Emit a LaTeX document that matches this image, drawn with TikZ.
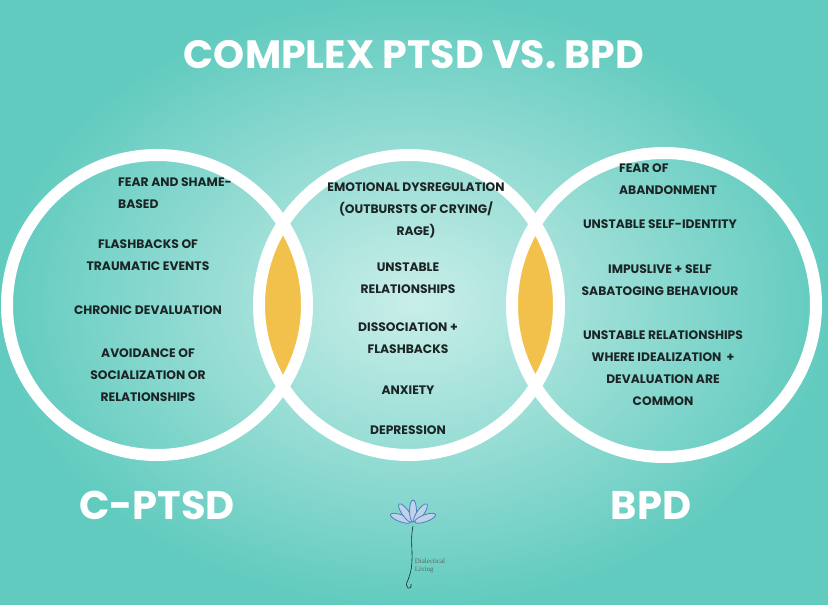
\documentclass[tikz,border=0pt]{standalone}
\usepackage{fontspec}
\setmainfont{Poppins}
\newfontfamily\logofont{Liberation Serif}
\usetikzlibrary{shapes.geometric}
\definecolor{bgc}{HTML}{A6E3DB}
\definecolor{bge}{HTML}{62CBBF}
\definecolor{lens}{HTML}{F2C14B}
\definecolor{ink}{HTML}{1B2525}
\definecolor{lotus}{HTML}{4A7FC0}
\tikzset{
  body/.style={text=ink,font=\fontsize{12.3}{22}\selectfont\bfseries,align=center},
  ring/.style={draw=white,line width=12pt},
  big/.style={text=white,font=\fontsize{40}{44}\selectfont\bfseries},
  petal/.style={draw=lotus,line width=0.8pt,fill=lotus!35,ellipse,minimum width=7pt,minimum height=22pt,inner sep=0pt}
}
\begin{document}
\begin{tikzpicture}[x=1pt,y=-1pt]
\useasboundingbox (0,0) rectangle (828,605);
\shade[inner color=bgc!60!white,outer color=bge] (0,0) rectangle (828,605);
\node[text=white,font=\fontsize{39.5}{42}\selectfont\bfseries] (title) at (414,55) {COMPLEX PTSD VS. BPD};
\coordinate (cl) at (157,305);
\coordinate (cc) at (409,305);
\coordinate (cr) at (664,305);
\begin{scope}
\clip (cl) circle (150);
\fill[lens] (cc) circle (150);
\end{scope}
\begin{scope}
\clip (cc) circle (150);
\fill[lens] (cr) circle (152);
\end{scope}
\draw[ring] (cl) circle (150);
\draw[ring] (cc) circle (150);
\draw[ring] (cr) circle (152);
\node[body,align=left] (l1) at (175,193) {FEAR AND SHAME-\\BASED};
\node[body] (l2) at (148,255) {FLASHBACKS OF\\TRAUMATIC EVENTS};
\node[body] (l3) at (148,310) {CHRONIC DEVALUATION};
\node[body] (l4) at (148,375) {AVOIDANCE OF\\SOCIALIZATION OR\\RELATIONSHIPS};
\node[body] (c1) at (416,210) {EMOTIONAL DYSREGULATION\\(OUTBURSTS OF CRYING/\\RAGE)};
\node[body] (c2) at (408,278) {UNSTABLE\\RELATIONSHIPS};
\node[body] (c3) at (408,338) {DISSOCIATION +\\FLASHBACKS};
\node[body] (c4) at (408,390) {ANXIETY};
\node[body] (c5) at (408,430) {DEPRESSION};
\node[body,align=left] (r1) at (668,179) {FEAR OF\\ABANDONMENT};
\node[body] (r2) at (660,224) {UNSTABLE SELF-IDENTITY};
\node[body] (r3) at (660,280) {IMPUSLIVE + SELF\\SABATOGING BEHAVIOUR};
\node[body] (r4) at (663,368) {UNSTABLE RELATIONSHIPS\\WHERE IDEALIZATION \ +\\DEVALUATION ARE\\COMMON};
\node[big] (lab1) at (157,505) {C-PTSD};
\node[big] (lab2) at (651,505) {BPD};
% logo
\foreach \a/\n in {-70/p1,-35/p2,0/p3,35/p4,70/p5}
  \node[petal,rotate=-\a] (\n) at ({413+13*sin(\a)},{522-11*cos(\a)}) {};
\coordinate (stemtop) at (413,526);
\coordinate (stembot) at (408,580);
\draw[ink,line width=0.6pt] (stemtop) .. controls (409,545) and (416,560) .. (stembot) .. controls (403,588) and (412,592) .. (411,584);
\node[text=ink!70,font=\fontsize{7}{8}\selectfont\logofont,align=left] (logo) at (430,566) {Dialectical\\Living};
\end{tikzpicture}
\end{document}
